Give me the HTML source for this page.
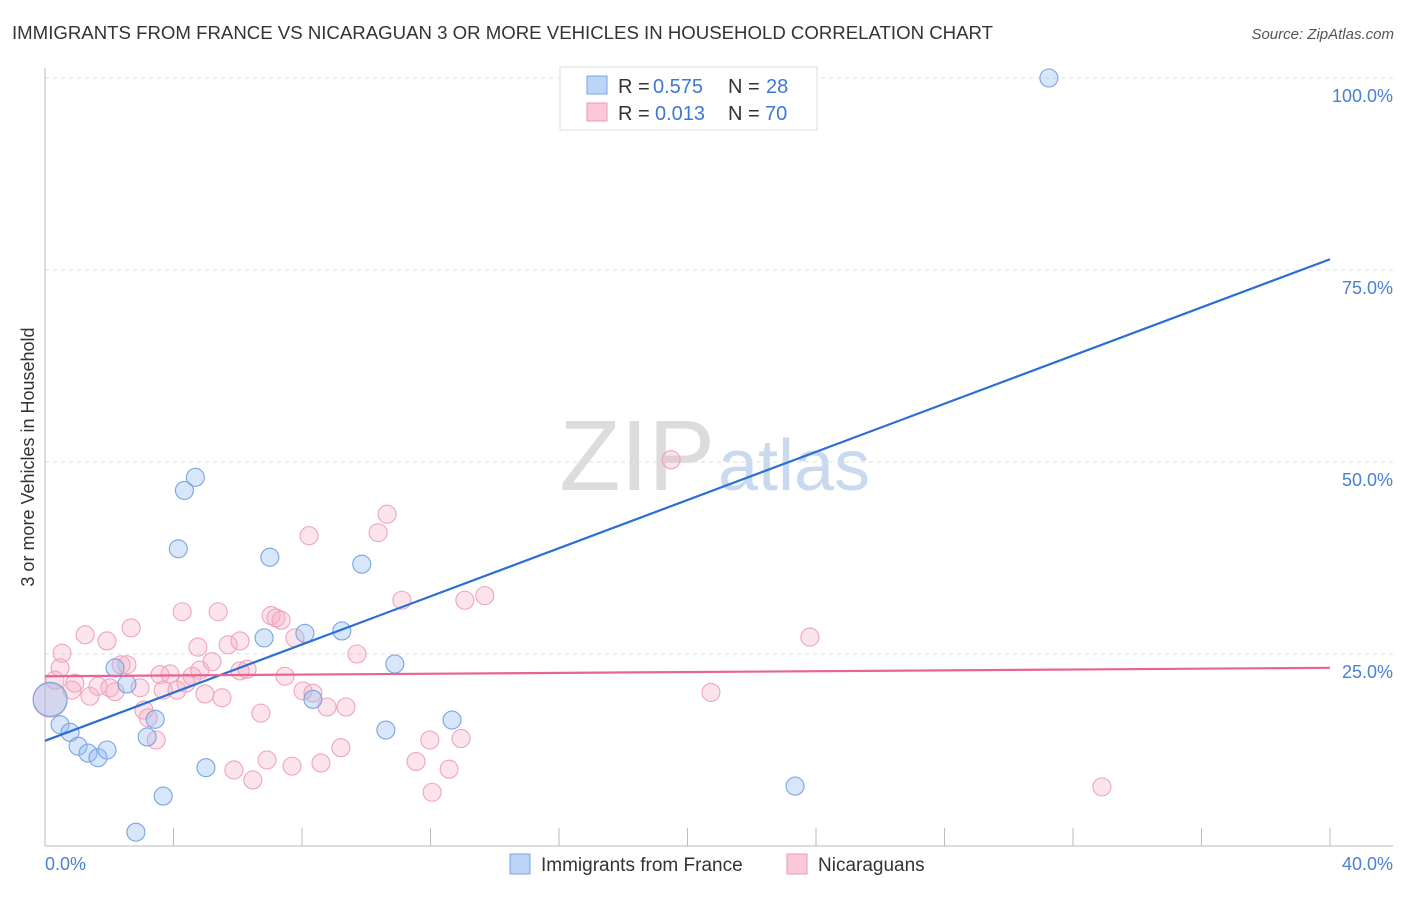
<!DOCTYPE html>
<html><head><meta charset="utf-8"><style>
body{margin:0;background:#fff;font-family:"Liberation Sans",sans-serif;}
svg text{font-family:"Liberation Sans",sans-serif;}
</style></head><body>
<svg width="1406" height="892" xmlns="http://www.w3.org/2000/svg">
<text x="12" y="39" font-size="18" fill="#333" textLength="981" lengthAdjust="spacingAndGlyphs">IMMIGRANTS FROM FRANCE VS NICARAGUAN 3 OR MORE VEHICLES IN HOUSEHOLD CORRELATION CHART</text>
<text x="1394" y="39" font-size="15" fill="#555" font-style="italic" text-anchor="end">Source: ZipAtlas.com</text>
<text x="715" y="490" font-size="100" fill="#dcdcdc" text-anchor="end" font-family="Liberation Serif">ZIP</text>
<text x="718" y="490" font-size="72" fill="#c8d9f0">atlas</text>
<g id="grid"></g>
<g id="axes"></g>
<g id="marks"></g>
<text transform="translate(34,457) rotate(-90)" font-size="18" fill="#333" text-anchor="middle">3 or more Vehicles in Household</text>
<text x="45" y="870" font-size="18" fill="#4a7fd4">0.0%</text>
<text x="1393" y="870" font-size="18" fill="#4a7fd4" text-anchor="end">40.0%</text>
<g>
<rect x="560" y="67" width="257" height="63" fill="#fff" stroke="#ddd"/>
<rect x="587" y="76" width="20" height="18" fill="#bcd4f5" stroke="#7aa6e6"/>
<rect x="587" y="103" width="20" height="18" fill="#fac8d8" stroke="#ee9ab6"/>
<text x="618" y="93" font-size="20" fill="#333">R =</text>
<text x="653" y="93" font-size="20" fill="#3b78d8">0.575</text>
<text x="728" y="93" font-size="20" fill="#333">N =</text>
<text x="766" y="93" font-size="20" fill="#3b78d8">28</text>
<text x="618" y="120" font-size="20" fill="#333">R =</text>
<text x="655" y="120" font-size="20" fill="#3b78d8">0.013</text>
<text x="728" y="120" font-size="20" fill="#333">N =</text>
<text x="765" y="120" font-size="20" fill="#3b78d8">70</text>
</g>
<g>
<rect x="510" y="854" width="20" height="20" fill="#bcd4f5" stroke="#7aa6e6"/>
<text x="541" y="871" font-size="19" fill="#333">Immigrants from France</text>
<rect x="787" y="854" width="20" height="20" fill="#fac8d8" stroke="#ee9ab6"/>
<text x="818" y="871" font-size="19" fill="#333">Nicaraguans</text>
</g>
</svg>
<script>
const yTicks=[25,50,75,100];
const yTickLabels=["25.0%","50.0%","75.0%","100.0%"];
const franceX=[0.16,0.47,0.78,1.03,1.34,1.65,1.93,2.18,2.55,2.83,3.18,3.43,3.68,4.15,4.34,4.68,5.01,6.82,7.0,8.09,8.34,9.24,9.86,10.61,10.89,12.67,23.35,31.25];
const franceY=[19.1,15.8,14.8,13.0,12.1,11.5,12.5,23.2,21.1,1.8,14.2,16.5,6.5,38.7,46.3,48.0,10.2,27.1,37.6,27.7,19.1,28.0,36.7,15.1,23.7,16.4,7.8,100.0];
const nicX=[0.16,0.31,0.47,0.53,0.84,0.93,1.25,1.4,1.65,1.93,2.02,2.18,2.37,2.55,2.68,2.96,3.08,3.21,3.46,3.58,3.68,3.89,4.11,4.27,4.39,4.58,4.76,4.82,4.98,5.2,5.39,5.51,5.7,5.88,6.07,6.07,6.29,6.47,6.72,6.91,7.04,7.19,7.35,7.47,7.69,7.78,8.03,8.22,8.34,8.59,8.78,9.21,9.37,9.71,10.37,10.65,11.11,11.55,11.98,12.05,12.58,12.95,13.07,13.69,19.49,20.73,23.81,32.9];
const nicY=[19.0,21.6,23.2,25.1,20.3,21.2,27.5,19.5,20.8,26.7,20.6,20.1,23.6,23.6,28.4,20.6,17.7,16.7,13.8,22.3,20.3,22.4,20.3,30.5,21.2,22.1,25.9,22.9,19.8,24.0,30.5,19.3,26.2,9.9,26.7,22.8,23.0,8.6,17.3,11.2,30.0,29.7,29.4,22.1,10.4,27.1,20.2,40.4,19.9,10.8,18.1,12.8,18.1,25.0,40.8,43.2,32.0,11.0,13.8,7.0,10.0,14.0,32.0,32.6,50.3,20.0,27.2,7.7];
const franceTrend=[[0,13.7],[40,76.4]];
const nicTrend=[[0,22.1],[40,23.2]];
const NS="http://www.w3.org/2000/svg";
const X=v=>45+v/40*1285, Y=v=>846-v/100*768;
function mk(t,a,p){const e=document.createElementNS(NS,t);for(const k in a)e.setAttribute(k,a[k]);p.appendChild(e);return e;}
const grid=document.getElementById('grid'),axes=document.getElementById('axes'),marks=document.getElementById('marks');
yTicks.forEach((t,i)=>{
 const l=mk('line',{x1:45,x2:1393,y1:Y(t),y2:Y(t),stroke:'#ddd','stroke-dasharray':'4,4'},grid);
 
 
 const tx=mk('text',{x:1393,y:Y(t)+24,'font-size':18,fill:'#4a7fd4','text-anchor':'end'},grid);
 tx.textContent=yTickLabels[i];
 
 
});
const xa=mk('line',{x1:45,x2:1393,y1:846,y2:846,stroke:'#bbb'},axes);


const ya=mk('line',{x1:45,x2:45,y1:68,y2:846,stroke:'#bbb'},axes);


for(let i=0;i<=10;i++){const t=mk('line',{x1:X(i*4),x2:X(i*4),y1:828,y2:846,stroke:'#bbb'},axes);
 
 }
function pts(xs,ys,fill,stroke,name){xs.forEach((x,i)=>{const big=i===0;
 const c=mk('circle',{cx:X(x),cy:Y(ys[i]),r:big?17:9,fill:fill,stroke:stroke,'stroke-width':1.1},marks);
 
 });}
pts(nicX,nicY,'rgba(246,170,196,0.32)','#f0a3bf','nicaraguan-point');
pts(franceX,franceY,'rgba(150,190,240,0.38)','#78a5e2','france-point');
const l1=mk('line',{x1:X(franceTrend[0][0]),y1:Y(franceTrend[0][1]),x2:X(franceTrend[1][0]),y2:Y(franceTrend[1][1]),stroke:'#2b6fd6','stroke-width':2.2},marks);


const l2=mk('line',{x1:X(nicTrend[0][0]),y1:Y(nicTrend[0][1]),x2:X(nicTrend[1][0]),y2:Y(nicTrend[1][1]),stroke:'#e8658f','stroke-width':2.2},marks);


</script>
</body></html>
